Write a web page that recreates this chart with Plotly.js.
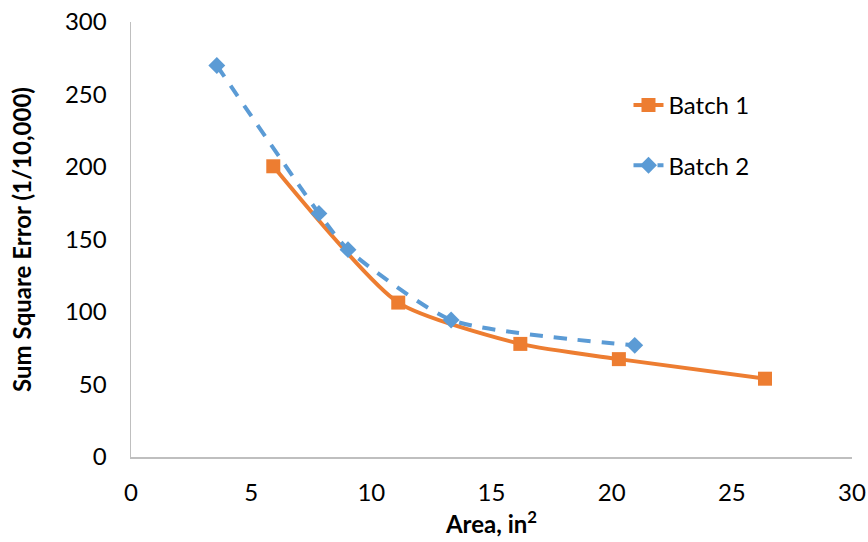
<!DOCTYPE html>
<html>
<head>
<meta charset="utf-8">
<script src="https://cdn.plot.ly/plotly-3.0.1.min.js"></script>
<style>html,body{margin:0;padding:0;background:#fff;}#chart{width:868px;height:542px;}</style>
</head>
<body>
<div id="chart"></div>
<script>
const batch1Area = [5.92, 11.12, 16.2, 20.3, 26.38];
const batch1SSE  = [200.5, 106.5, 78, 67.5, 54];
const batch2Area = [3.57, 7.82, 9.03, 13.32, 20.96];
const batch2SSE  = [270, 168, 143, 94.5, 77];
const xTicks = [0, 5, 10, 15, 20, 25, 30];
const yTicks = [0, 50, 100, 150, 200, 250, 300];

const FONT = 'Lato, "Open Sans", sans-serif';
const traces = [
  {
    x: batch1Area, y: batch1SSE, name: 'Batch 1', type: 'scatter', mode: 'lines+markers',
    legendgroup: 'a',
    line: {color: '#ED7D31', width: 4, shape: 'spline', smoothing: 0.6},
    marker: {symbol: 'square', size: 14, color: '#ED7D31'}
  },
  {
    x: batch2Area, y: batch2SSE, name: 'Batch 2', type: 'scatter', mode: 'lines+markers',
    legendgroup: 'b',
    line: {color: '#5B9BD5', width: 4, dash: '13px,11px', shape: 'spline', smoothing: 0.6},
    marker: {symbol: 'diamond', size: 13, color: '#5B9BD5'}
  }
];
const layout = {
  width: 868, height: 542,
  margin: {l: 131, r: 16, t: 22, b: 85},
  paper_bgcolor: '#fff', plot_bgcolor: '#fff',
  font: {family: FONT, size: 24, color: '#000'},
  showlegend: true,
  legend: {x: 0.69, y: 0.86, xanchor: 'left', yanchor: 'top', traceorder: 'grouped', tracegroupgap: 26,
           font: {family: FONT, size: 24, color: '#000'}, bgcolor: 'rgba(0,0,0,0)'},
  xaxis: {
    range: [0, 30], tickvals: xTicks, ticktext: xTicks.map(String),
    showgrid: false, zeroline: false, showline: true, linecolor: '#bfbfbf', linewidth: 1.5,
    ticks: '', ticklabelstandoff: 14, tickfont: {family: FONT, size: 24, color: '#000'},
    title: {text: '<b>Area, in<sup>2</sup></b>', font: {family: FONT, size: 24, color: '#000'}, standoff: 10},
    fixedrange: true
  },
  yaxis: {
    range: [0, 300], tickvals: yTicks, ticktext: yTicks.map(String),
    showgrid: false, zeroline: false, showline: true, linecolor: '#bfbfbf', linewidth: 1.5,
    ticks: '', ticklabelstandoff: 18, tickfont: {family: FONT, size: 24, color: '#000'},
    title: {text: '<b>Sum Square Error (1/10,000)</b>', font: {family: FONT, size: 24, color: '#000'}, standoff: 26},
    fixedrange: true
  }
};
Plotly.newPlot('chart', traces, layout, {displayModeBar: false, staticPlot: true});
</script>
</body>
</html>
